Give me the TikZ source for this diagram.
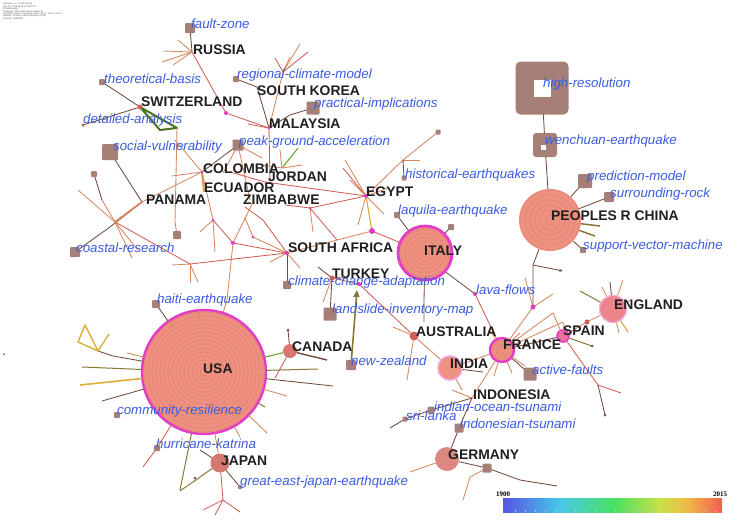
\documentclass[tikz,border=0pt]{standalone}
\usepackage{fontspec}
\setmainfont{Liberation Sans}
\newfontfamily\serifbold{Liberation Serif}
\usetikzlibrary{arrows.meta}
\definecolor{eor}{RGB}{214,135,95}
\definecolor{ered}{RGB}{208,95,85}
\definecolor{ebr}{RGB}{115,75,60}
\definecolor{eol}{RGB}{135,120,55}
\definecolor{egr}{RGB}{105,165,50}
\definecolor{eyl}{RGB}{220,175,60}
\definecolor{kw}{RGB}{58,92,222}
\definecolor{sqc}{RGB}{166,128,118}
\definecolor{mag}{RGB}{228,60,200}
\definecolor{cfill}{RGB}{238,145,128}
\definecolor{cring}{RGB}{215,105,95}
\definecolor{cb1}{RGB}{85,85,230}
\definecolor{cb2}{RGB}{70,200,232}
\definecolor{cb3}{RGB}{70,225,100}
\definecolor{cb4}{RGB}{200,225,70}
\definecolor{cb5}{RGB}{240,190,70}
\definecolor{cb6}{RGB}{240,95,80}
\begin{document}
\begin{tikzpicture}[x=1pt,y=-1pt,
  country/.style={font=\fontsize{13.9}{14}\selectfont\bfseries, text={black!88}, anchor=west, inner sep=0pt},
  kwl/.style={font=\fontsize{13.3}{14}\selectfont\itshape, text=kw, anchor=west, inner sep=0pt},
  sqn/.style={rectangle, fill=sqc, minimum size=#1, inner sep=0pt, rounded corners=1pt},
  dotm/.style={circle, fill=mag, minimum size=#1, inner sep=0pt},
  dotb/.style={circle, fill=sqc!70!black, minimum size=#1, inner sep=0pt},
  bigc/.style={circle, fill=cfill, minimum size=#1, inner sep=0pt},
  ringl/.style={draw=cring, line width=0.35pt, opacity=0.6},
  eo/.style={draw=eor, line width=0.85pt},
  er/.style={draw=ered, line width=0.85pt},
  eb/.style={draw=ebr, line width=0.85pt},
  el/.style={draw=eol, line width=1pt},
  eg/.style={draw=egr, line width=1.1pt},
  ey/.style={draw=eyl, line width=1.2pt},
  hdr/.style={font=\fontsize{2.3}{2.4}\selectfont, anchor=north west, inner sep=0pt, align=left, text=black!70},
  yr/.style={font=\serifbold\fontsize{7}{8}\selectfont\bfseries, inner sep=0pt},
]
\useasboundingbox (0,0) rectangle (733,528);

% ---------- big circles ----------
\node[bigc=124pt] (U) at (204,372) {};
\foreach \r in {4,8,...,60} \draw[ringl] (U.center) circle (\r pt);
\draw[mag, line width=2.4pt] (U.center) circle (62pt);

\node[bigc=56pt] (IT) at (425,253) {};
\foreach \r in {4,8,...,24} \draw[ringl] (IT.center) circle (\r pt);
\draw[mag, line width=2.8pt] (IT.center) circle (27pt);

\node[bigc=62pt] (CN) at (550,220) {};
\foreach \r in {5,10,...,30} \draw[ringl] (CN.center) circle (\r pt);

\node[bigc=26pt] (FR) at (502,350) {};
\foreach \r in {3,6,9} \draw[ringl] (FR.center) circle (\r pt);
\draw[mag, line width=2.4pt] (FR.center) circle (12pt);

\node[bigc=25pt] (IN) at (450,368) {};
\draw[mag!45, line width=1.4pt] (IN.center) circle (12pt);

\node[bigc=28pt, fill=cfill!85!mag] (EN) at (613,309) {};
\draw[mag!40, line width=1.2pt] (EN.center) circle (13.5pt);

\node[bigc=13pt, fill=cfill!60!mag] (SP) at (563,336) {};
\draw[mag, line width=1.5pt] (SP.center) circle (6pt);

\node[bigc=14pt, fill=ered!85] (CA) at (290,351) {};
\node[bigc=19pt, fill=ered!85] (JP) at (220,463) {};
\node[bigc=24pt, fill=ered!75] (GE) at (447,459) {};
\node[bigc=9pt, fill=ered] (AU) at (414,336) {};

% ---------- named hub points ----------
\coordinate (R) at (192,52);
\coordinate (SW) at (140,107);
\coordinate (M) at (269,128);
\coordinate (JH) at (282,168);
\coordinate (C) at (202,172);
\coordinate (PA) at (142,202);
\coordinate (A) at (115,222);
\coordinate (EG) at (366,196);
\coordinate (ZD) at (310,208);
\coordinate (SA) at (287,253);
\coordinate (T) at (332,278);
\coordinate (TD) at (359,284);
\coordinate (ED) at (372,231);
\coordinate (LD) at (475,294);
\coordinate (FD) at (533,307);
\coordinate (CD) at (533,265);
\coordinate (ID) at (472,398);
\coordinate (K1) at (233,243);
\coordinate (K2) at (253,237);
\coordinate (K3) at (213,220);
\coordinate (K4) at (190,264);
\coordinate (K5) at (283,72);
\coordinate (K6) at (403,160);
\coordinate (K7) at (223,313);
\coordinate (K8) at (598,385);
\coordinate (K9) at (223,500);
\coordinate (G1) at (520,480);
\coordinate (G2) at (470,477);

% ---------- edges ----------
% Russia
\draw[eb] (R) -- (190,28);
\draw[eo] (R) -- (163,51); \draw[eo] (R) -- (162,62); \draw[eo] (R) -- (173,65); \draw[eo] (R) -- (178,40);
\draw[er] (R) -- (226,113) -- (M);
% Switzerland
\draw[eb] (SW) -- (102,82);
\draw[eb] (SW) -- (83,125);
\draw[draw=egr!70!black, line width=2pt, line join=round] (SW) -- (160,130) -- (177,128) -- cycle;
\draw[eo] (177,128) -- (176,176) -- (175,222) -- (177,235);
% Malaysia
\draw[er] (M) -- (248,124);
\draw[eo] (M) -- (K5); \draw[er] (K5) -- (275,58); \draw[eo] (K5) -- (290,57); \draw[er] (K5) -- (308,52); \draw[eo] (K5) -- (300,44);
\draw[eb] (236,79) -- (257,87) -- (M);
\draw[eb] (313,108) -- (290,115) -- (M);
\draw[er] (M) -- (270,182);
% Jordan
\draw[eg] (JH) -- (298,148);
\draw[eo] (JH) -- (280,150); \draw[eo] (JH) -- (302,165); \draw[eo] (JH) -- (262,165);
% peak ground acceleration
\draw[eb] (238,145) -- (C); \draw[eo] (238,145) -- (223,173); \draw[eo] (238,145) -- (250,200); \draw[eo] (238,145) -- (262,158);
% Colombia / Panama
\draw[eo] (C) -- (172,176); \draw[eo] (C) -- (175,140);
\draw[draw=eor!80!yellow, line width=2pt] (C) -- (204,192);
\draw[eo] (C) -- (PA); \draw[eo] (C) -- (K3);
\draw[eb] (110,152) -- (PA);
\draw[eb] (75,252) -- (110,227) -- (PA);
\draw[draw=eor, line width=1.8pt] (A) -- (PA);
\draw[eo] (A) -- (78,190); \draw[eo] (A) -- (102,200); \draw[eb] (102,200) -- (94,174);
\draw[er] (A) -- (133,232) -- (K4); \draw[eo] (A) -- (132,258); \draw[eo] (A) -- (138,250);
\draw[eo] (K4) -- (172,265); \draw[eo] (K4) -- (190,283); \draw[eo] (K4) -- (198,282);
\draw[er] (K4) -- (SA);
\draw[eo] (K3) -- (200,232); \draw[eo] (K3) -- (215,252); \draw[er] (K3) -- (K1);
% Egypt
\draw[er] (EG) -- (ZD); \draw[er] (EG) -- (265,182) -- (230,172);
\draw[eo] (EG) -- (350,180); \draw[er] (EG) -- (343,168); \draw[eo] (EG) -- (384,214); \draw[eo] (EG) -- (358,225);
\draw[ey] (EG) -- (ED);
\draw[eo] (EG) -- (K6); \draw[eo] (K6) -- (438,132); \draw[eo] (K6) -- (420,160); \draw[eb] (K6) -- (404,178);
\draw[eo] (EG) -- (345,160); \draw[eo] (EG) -- (388,188);
% Zimbabwe
\draw[er] (245,207) -- (263,220) -- (SA);
\draw[eo] (253,202) -- (K1) -- (227,300) -- (K7) -- (U);
\draw[er] (ZD) -- (337,240); \draw[eo] (ZD) -- (313,232); \draw[er] (ZD) -- (285,205);
% South Africa
\draw[er] (SA) -- (K1); \draw[eo] (SA) -- (K2); \draw[eo] (K2) -- (245,218);
\draw[eb] (SA) -- (287,285);
\draw[eo] (SA) -- (ED); \draw[er] (ED) -- (IT);
\draw[eo] (SA) -- (300,268); \draw[eo] (SA) -- (270,262);
% Turkey
\draw[eb] (T) -- (318,267); \draw[eo] (T) -- (323,302); \draw[eo] (T) -- (345,277);
\draw[er] (T) -- (TD) -- (AU);
\draw[eb] (T) -- (330,314);
\draw[draw=eol, line width=1.6pt, -{Triangle[length=7pt,width=6pt]}] (351,365) -- (357,290);
% Italy
\draw[eb] (397,215) -- (IT) -- (447,273) -- (LD);
\draw[eb] (IT) -- (451,227);
\draw[eb] (IT) -- (424,300) -- (424,322);
\draw[er] (LD) -- (FR);
% France
\draw[eo] (FR) -- (FD); \draw[eo] (FD) -- (553,294); \draw[eo] (FD) -- (525,278);
\draw[eb] (CN) -- (CD) -- (FD);
\draw[eb, -{Stealth[length=4pt]}] (CD) -- (563,271);
\draw[eb] (FR) -- (SP); \draw[eo] (FR) -- (553,313); \draw[eo] (FR) -- (563,322);
\draw[eb] (FR) -- (530,374); \draw[eo] (FR) -- (ID); \draw[eo] (FR) -- (IN);
\draw[eo] (FR) -- (525,366); \draw[eo] (FR) -- (512,373); \draw[eo] (FR) -- (494,376); \draw[eo] (FR) -- (490,330); \draw[eo] (FR) -- (520,333);
% India / Australia
\draw[eo] (AU) -- (IN); \draw[eo] (AU) -- (393,327); \draw[eo] (AU) -- (407,380);
\draw[eb] (IN) -- (483,372); \draw[eo] (IN) -- (462,390);
% Indonesia
\draw[eo] (ID) -- (452,390);
\draw[eb] (ID) -- (431,410) -- (405,419) -- (390,428);
\draw[eb] (ID) -- (459,428) -- (GE);
% Germany
\draw[eb] (GE) -- (487,468) -- (G1) -- (557,486);
\draw[eo] (487,468) -- (G2) -- (463,500);
\draw[eo] (GE) -- (410,472);
% Spain / England
\draw[eo] (SP) -- (587,322) -- (EN);
\draw[eo] (SP) -- (553,313); \draw[eo] (SP) -- (564,322); \draw[el] (SP) -- (592,346);
\draw[er] (SP) -- (K8); \draw[er] (K8) -- (621,393); \draw[eb] (K8) -- (605,415);
\draw[eo] (EN) -- (602,287); \draw[eb] (EN) -- (610,282); \draw[eo] (EN) -- (623,280); \draw[el] (EN) -- (580,291);
\draw[ey] (EN) -- (628,332); \draw[eo] (EN) -- (619,333); \draw[eo] (EN) -- (631,300);
% China
\draw[eb] (542,88) -- (545,145) -- (CN);
\draw[eb] (CN) -- (585,181); \draw[eb] (CN) -- (609,197); \draw[eb] (CN) -- (583,250);
\draw[draw=eol, line width=1.5pt] (CN) -- (600,226); \draw[draw=eol, line width=1.5pt] (CN) -- (595,236);
% USA
\draw[eb] (U) -- (156,304);
\draw[eg] (U) -- (CA);
\draw[el] (U) -- (318,369); \draw[eb] (U) -- (333,386); \draw[eo] (U) -- (287,396);
\draw[el] (U) -- (265,407); \draw[eo] (U) -- (267,433); \draw[eo] (U) -- (240,437);
\draw[el] (U) -- (82,367); \draw[draw=eyl, line width=1.6pt] (U) -- (80,385); \draw[eb] (U) -- (102,401);
\draw[eb] (U) -- (113,356) -- (98,351); \draw[eo] (U) -- (127,353);
\draw[er] (U) -- (157,448) -- (143,467);
\draw[el] (U) -- (180,490);
\draw[eo] (U) -- (JP);
\draw[eo] (U) -- (175,330); \draw[eo] (U) -- (200,320);
\draw[draw=eyl, line width=1.4pt, line join=round] (85,325) -- (78,342) -- (98,351) -- cycle;
\draw[draw=eyl, line width=1.4pt] (98,351) -- (109,334);
% Canada
\draw[eb] (CA) -- (288,330); \draw[draw=ebr, line width=1.4pt] (CA) -- (327,360); \draw[er] (CA) -- (275,378);
% Japan
\draw[el] (JP) -- (180,491); \draw[eb] (JP) -- (200,450); \draw[eb] (JP) -- (240,487);
\draw[er] (JP) -- (K9); \draw[er] (K9) -- (203,510); \draw[er] (K9) -- (240,512); \draw[er] (K9) -- (215,515);

% ---------- squares ----------
\node[sqn=53pt, rounded corners=5pt] (HR) at (542,88) {};
\node[fill=white, minimum size=17pt, inner sep=0pt] at (542,88) {};
\node[sqn=24pt, rounded corners=3pt] (WE) at (545,145) {};
\node[fill=white, minimum size=5pt, inner sep=0pt] at (543,147) {};
\node[sqn=14pt] (PMs) at (585,181) {};
\node[sqn=10pt] (SRs) at (609,197) {};
\node[sqn=6pt] (SVs) at (583,250) {};
\node[sqn=10pt] (FZs) at (190,28) {};
\node[sqn=6pt] (TBs) at (102,82) {};
\node[sqn=6pt] (RCs) at (236,79) {};
\node[sqn=13pt] (PIs) at (313,108) {};
\node[sqn=3pt] (DAs) at (83,125) {};
\node[sqn=16pt] (SVUs) at (110,152) {};
\node[sqn=11pt] (PGs) at (238,145) {};
\node[sqn=5pt] (HEQs) at (404,178) {};
\node[sqn=6pt] (LQs) at (397,215) {};
\node[sqn=10pt] (CRs) at (75,252) {};
\node[sqn=8pt] (CCs) at (287,285) {};
\node[sqn=8pt] (HAs) at (156,304) {};
\node[sqn=13pt] (LIs) at (330,314) {};
\node[sqn=10pt] (NZs) at (351,365) {};
\node[sqn=13pt] (AFs) at (530,374) {};
\node[sqn=6pt] (COs) at (117,415) {};
\node[sqn=7pt] (IOs) at (431,410) {};
\node[sqn=5pt] (SLs) at (405,419) {};
\node[sqn=9pt] (ITs) at (459,428) {};
\node[sqn=6pt] (HKs) at (157,448) {};
\node[sqn=4pt] (GJs) at (240,487) {};
\node[sqn=6pt] (X1) at (94,174) {};
\node[sqn=8pt] (X2) at (177,235) {};
\node[sqn=6pt] (X3) at (451,227) {};
\node[sqn=5pt] (X4) at (438,132) {};
\node[sqn=9pt] (X5) at (487,468) {};

% ---------- dots ----------
\node[dotm=4pt] at (226,113) {};
\node[dotm=3pt] at (M) {};
\node[dotm=3pt] at (C) {};
\node[dotm=4pt] at (EG) {};
\node[dotm=3pt] at (ZD) {};
\node[dotm=4pt] at (SA) {};
\node[dotm=6pt] at (ED) {};
\node[dotm=4pt] at (TD) {};
\node[dotm=4pt] at (LD) {};
\node[dotm=5pt] at (FD) {};
\node[dotm=4pt] at (K1) {};
\node[dotm=3pt] at (K2) {};
\node[dotm=3pt] at (K3) {};
\node[dotm=3pt] at (223,313) {};
\node[circle, fill=ered, minimum size=5pt, inner sep=0pt] at (SW) {};
\node[circle, fill=ered, minimum size=5pt, inner sep=0pt] at (587,322) {};
\node[circle, fill=ered, minimum size=5pt, inner sep=0pt] at (T) {};
\node[dotb=3pt] at (288,330) {};
\node[dotb=3pt] at (195,478) {};
\node[dotb=2pt] at (4,354) {};
\node[dotb=3pt] at (605,415) {};
\node[dotb=3pt] at (592,346) {};

% ---------- labels: countries ----------
\node[country] (lRU) at (193,50) {RUSSIA};
\node[country] (lSW) at (141,102) {SWITZERLAND};
\node[country] (lSK) at (257,91) {SOUTH KOREA};
\node[country] (lMA) at (269,124) {MALAYSIA};
\node[country] (lCO) at (203,169) {COLOMBIA};
\node[country] (lJO) at (268,177) {JORDAN};
\node[country] (lEC) at (204,188) {ECUADOR};
\node[country] (lZI) at (243,200) {ZIMBABWE};
\node[country] (lPA) at (146,200) {PANAMA};
\node[country] (lEG) at (366,192) {EGYPT};
\node[country] (lSA) at (288,248) {SOUTH AFRICA};
\node[country] (lIT) at (424,251) {ITALY};
\node[country] (lTU) at (332,274) {TURKEY};
\node[country] (lCN) at (551,216) {PEOPLES R CHINA};
\node[country] (lEN) at (614,305) {ENGLAND};
\node[country] (lSP) at (563,331) {SPAIN};
\node[country] (lAU) at (416,332) {AUSTRALIA};
\node[country] (lFR) at (503,345) {FRANCE};
\node[country] (lIN) at (450,364) {INDIA};
\node[country] (lCA) at (292,347) {CANADA};
\node[country] (lUS) at (203,369) {USA};
\node[country] (lID) at (473,395) {INDONESIA};
\node[country] (lGE) at (448,455) {GERMANY};
\node[country] (lJP) at (221,461) {JAPAN};

% ---------- labels: keywords ----------
\node[kwl] (kFZ) at (191,24) {fault-zone};
\node[kwl] (kTB) at (104,79) {theoretical-basis};
\node[kwl] (kRC) at (237,75) {regional-climate-model};
\node[kwl] (kPI) at (314,104) {practical-implications};
\node[kwl] (kDA) at (83,120) {detailed-analysis};
\node[kwl] (kSV) at (113,147) {social-vulnerability};
\node[kwl] (kPG) at (239,142) {peak-ground-acceleration};
\node[kwl] (kHE) at (405,175) {historical-earthquakes};
\node[kwl] (kLQ) at (398,211) {laquila-earthquake};
\node[kwl] (kCR) at (76,248) {coastal-research};
\node[kwl] (kCC) at (288,282) {climate-change-adaptation};
\node[kwl] (kHA) at (157,300) {haiti-earthquake};
\node[kwl] (kLI) at (332,310) {landslide-inventory-map};
\node[kwl] (kLF) at (476,290) {lava-flows};
\node[kwl] (kNZ) at (351,361) {new-zealand};
\node[kwl] (kAF) at (532,370) {active-faults};
\node[kwl] (kCM) at (117,411) {community-resilience};
\node[kwl] (kIO) at (434,407) {indian-ocean-tsunami};
\node[kwl] (kSL) at (406,416) {sri-lanka};
\node[kwl] (kIT) at (460,424) {indonesian-tsunami};
\node[kwl] (kHK) at (156,444) {hurricane-katrina};
\node[kwl] (kGJ) at (240,482) {great-east-japan-earthquake};
\node[kwl] (kHR) at (543,84) {high-resolution};
\node[kwl] (kWE) at (545,141) {wenchuan-earthquake};
\node[kwl] (kPM) at (587,177) {prediction-model};
\node[kwl] (kSR) at (610,194) {surrounding-rock};
\node[kwl] (kSVM) at (583,246) {support-vector-machine};

% ---------- header ----------
\node[hdr] (hd) at (3,3) {CiteSpace, v. 5.2.R2 (64-bit)\\May 15, 2018 10:21:33 AM CST\\E:\textbackslash{}data\textbackslash{}hazard\\Timespan: 1900-2015 (Slice Length=1)\\Selection Criteria: Top 50 per slice, LRF=2, LBY=8, e=2.0\\Network: N=269, E=268 (Density=0.0074)\\Pruning: Pathfinder};

% ---------- colour bar ----------
\shade[left color=cb1, right color=cb2] (503,498) rectangle (560,512);
\shade[left color=cb2, right color=cb3] (560,498) rectangle (613,512);
\shade[left color=cb3, right color=cb4] (613,498) rectangle (660,512);
\shade[left color=cb4, right color=cb5] (660,498) rectangle (685,512);
\shade[left color=cb5, right color=cb6] (685,498) rectangle (722,512);
\foreach \xx in {515,525,...,715} \draw[black!25, line width=0.3pt] (\xx,510) -- (\xx,512);
\node[yr] (y1) at (503,494) {1900};
\node[yr] (y2) at (720,494) {2015};
\end{tikzpicture}
\end{document}
